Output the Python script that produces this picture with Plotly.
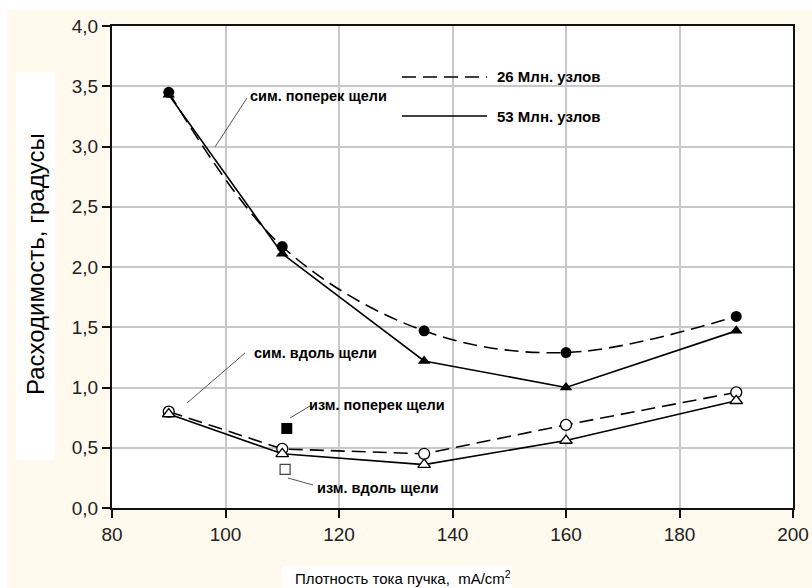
import plotly.graph_objects as go

# ---- data ----
x_sim = [90, 110, 135, 160, 190]
cross_26 = [3.45, 2.17, 1.47, 1.29, 1.59]
cross_53 = [3.43, 2.11, 1.22, 1.00, 1.47]
along_26 = [0.80, 0.49, 0.45, 0.69, 0.96]
along_53 = [0.78, 0.45, 0.36, 0.56, 0.89]
x_meas_cross = [110.8]
meas_cross = [0.66]
x_meas_along = [110.5]
meas_along = [0.32]
x_ticks = [80, 100, 120, 140, 160, 180, 200]
y_ticks = [0.0, 0.5, 1.0, 1.5, 2.0, 2.5, 3.0, 3.5, 4.0]

W, H = 812, 588
L, R, T, B = 112, 19, 26, 80
PW, PH = W - L - R, H - T - B

def PX(px):
    return (px - L) / PW

def PY(py):
    return (H - B - py) / PH

FONT = "Arial, Liberation Sans, sans-serif"
CREAM = "#FFF9EE"

fig = go.Figure()

fig.add_trace(go.Scatter(x=x_sim, y=cross_26, mode="lines+markers",
                         line=dict(color="black", width=1.6, dash="14px,7px", shape="spline", smoothing=1.0),
                         marker=dict(symbol="circle", size=11, color="black"),
                         name="26 Млн. узлов", showlegend=False))
fig.add_trace(go.Scatter(x=x_sim, y=cross_53, mode="lines+markers",
                         line=dict(color="black", width=1.6),
                         marker=dict(symbol="triangle-up", size=11, color="black"),
                         name="53 Млн. узлов", showlegend=False))
fig.add_trace(go.Scatter(x=x_sim, y=along_26, mode="lines+markers",
                         line=dict(color="black", width=1.6, dash="14px,7px"),
                         marker=dict(symbol="circle", size=11, color="white", line=dict(color="black", width=1.3)),
                         showlegend=False))
fig.add_trace(go.Scatter(x=x_sim, y=along_53, mode="lines+markers",
                         line=dict(color="black", width=1.6),
                         marker=dict(symbol="triangle-up", size=11, color="white", line=dict(color="black", width=1.3)),
                         showlegend=False))
fig.add_trace(go.Scatter(x=x_meas_cross, y=meas_cross, mode="markers",
                         marker=dict(symbol="square", size=11, color="black"),
                         showlegend=False))
fig.add_trace(go.Scatter(x=x_meas_along, y=meas_along, mode="markers",
                         marker=dict(symbol="square", size=10, color="white", line=dict(color="#444", width=1.2)),
                         showlegend=False))

shapes = [
    # white strips at top/left of page
    dict(type="rect", xref="paper", yref="paper", x0=PX(0), x1=PX(W), y0=PY(10), y1=PY(0),
         fillcolor="white", line=dict(width=0), layer="below"),
    dict(type="rect", xref="paper", yref="paper", x0=PX(0), x1=PX(7), y0=PY(H), y1=PY(0),
         fillcolor="white", line=dict(width=0), layer="below"),
    # white boxes behind axis titles
    dict(type="rect", xref="paper", yref="paper", x0=PX(16), x1=PX(55), y0=PY(460), y1=PY(72),
         fillcolor="white", line=dict(width=0), layer="below"),
    dict(type="rect", xref="paper", yref="paper", x0=PX(282), x1=PX(512), y0=PY(H), y1=PY(566),
         fillcolor="white", line=dict(width=0), layer="below"),
    # legend samples
    dict(type="line", xref="paper", yref="paper", x0=PX(402), x1=PX(487), y0=PY(77), y1=PY(77),
         line=dict(color="black", width=1.6, dash="14px,7px")),
    dict(type="line", xref="paper", yref="paper", x0=PX(402), x1=PX(487), y0=PY(116), y1=PY(116),
         line=dict(color="black", width=1.6)),
    # leader lines
    dict(type="line", xref="paper", yref="paper", x0=PX(215), x1=PX(247), y0=PY(147), y1=PY(98),
         line=dict(color="#555", width=1)),
    dict(type="line", xref="paper", yref="paper", x0=PX(187), x1=PX(245), y0=PY(403), y1=PY(353),
         line=dict(color="#555", width=1)),
    dict(type="line", xref="paper", yref="paper", x0=PX(290), x1=PX(310), y0=PY(418), y1=PY(406),
         line=dict(color="#555", width=1)),
    dict(type="line", xref="paper", yref="paper", x0=PX(288), x1=PX(313), y0=PY(478), y1=PY(485),
         line=dict(color="#555", width=1)),
]

def ann(text, px, py, size=14.5, bold=True, xanchor="left", textangle=0):
    return dict(text=("<b>%s</b>" % text) if bold else text, xref="paper", yref="paper",
                x=PX(px), y=PY(py), xanchor=xanchor, yanchor="middle", showarrow=False,
                textangle=textangle, font=dict(family=FONT, size=size, color="black"))

annotations = [
    ann("сим. поперек щели", 248, 96),
    ann("сим. вдоль щели", 252, 353),
    ann("изм. поперек щели", 307, 405),
    ann("изм. вдоль щели", 315, 488),
    ann("26 Млн. узлов", 495, 77, size=15),
    ann("53 Млн. узлов", 495, 116, size=15),
    ann("Расходимость, градусы", 35, 264, size=24, bold=False, xanchor="center", textangle=-90),
    ann("Плотность тока пучка,  mA/cm<sup>2</sup>", 403, 577, size=15, bold=False, xanchor="center"),
]

fig.update_layout(
    width=W, height=H, autosize=False,
    margin=dict(l=L, r=R, t=T, b=B, pad=0, autoexpand=False),
    paper_bgcolor=CREAM, plot_bgcolor="white",
    separators=", ",
    font=dict(family=FONT, size=19, color="#222"),
    shapes=shapes, annotations=annotations,
    showlegend=False,
)
fig.update_xaxes(range=[80, 200], tickvals=x_ticks, ticktext=[str(v) for v in x_ticks],
                 automargin=False,
                 showgrid=True, gridcolor="#c8c8c8", gridwidth=2,
                 showline=True, linecolor="#111", linewidth=2, mirror=True,
                 ticks="outside", ticklen=8, tickwidth=2, tickcolor="#111",
                 zeroline=False, tickfont=dict(size=19, color="#222"))
fig.update_yaxes(range=[0, 4], tickvals=y_ticks, tickformat=".1f",
                 automargin=False,
                 showgrid=True, gridcolor="#c8c8c8", gridwidth=2,
                 showline=True, linecolor="#111", linewidth=2, mirror=True,
                 ticks="outside", ticklen=8, tickwidth=2, tickcolor="#111",
                 zeroline=False, tickfont=dict(size=19, color="#222"))

fig.write_html("out.html", config={"displayModeBar": False},
               post_script="document.body.style.margin='0';document.body.style.overflow='hidden';")
